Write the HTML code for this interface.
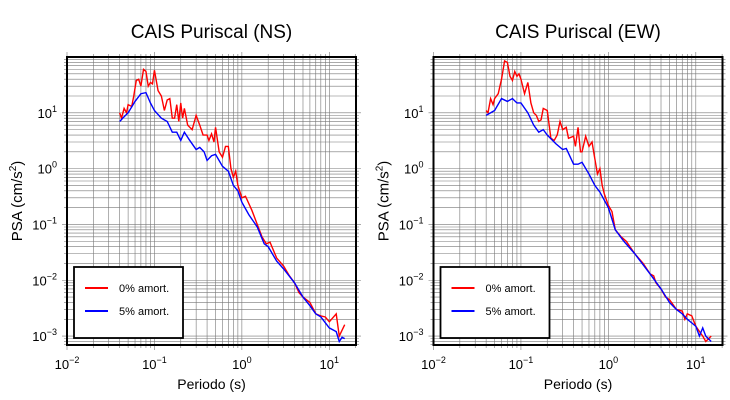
<!DOCTYPE html>
<html><head><meta charset="utf-8"><style>
body{margin:0;background:#fff}svg{display:block;font-family:"Liberation Sans",sans-serif}
</style></head><body>
<svg id="c" width="730" height="400" viewBox="0 0 730 400"></svg>
<script>
const nsPer0=[0.04,0.042,0.045,0.048,0.05,0.055,0.058,0.062,0.066,0.07,0.075,0.08,0.085,0.09,0.095,0.1,0.11,0.12,0.13,0.14,0.15,0.16,0.17,0.18,0.19,0.2,0.21,0.22,0.24,0.27,0.3,0.33,0.36,0.4,0.42,0.45,0.48,0.5,0.55,0.6,0.65,0.7,0.75,0.8,0.85,0.9,1.0,1.1,1.3,1.5,1.7,1.9,2.1,2.5,3,3.5,4,4.5,5,6,7,8,9,10,12,13,15];
const nsVal0=[10,8,12,10,14,13,20,38,40,30,60,55,30,35,33,58,25,20,11,17,18,8,8,14,7,15,8,12,6,5,9,6,4,4,3.2,4.2,3,5.5,2,1.6,2.5,2.5,1.0,0.7,0.9,0.5,0.3,0.32,0.18,0.1,0.06,0.045,0.048,0.025,0.018,0.012,0.009,0.006,0.005,0.004,0.0025,0.0023,0.0022,0.0018,0.0025,0.001,0.0016];
const nsPer5=[0.04,0.045,0.05,0.06,0.07,0.08,0.09,0.1,0.12,0.14,0.16,0.18,0.2,0.22,0.25,0.3,0.33,0.37,0.4,0.45,0.5,0.6,0.7,0.8,0.9,1.0,1.2,1.5,1.8,2,2.5,3,4,5,6,7,8,10,12,13,14,15];
const nsVal5=[7,8.5,10,16,22,23,15,11,8,7,4.5,4.5,3.2,4.5,3.3,2.2,2.4,2.0,1.4,1.7,1.8,1.1,0.9,0.5,0.4,0.25,0.15,0.09,0.045,0.04,0.022,0.016,0.009,0.005,0.0035,0.0025,0.0022,0.0014,0.0012,0.0008,0.00095,0.0009];
const ewPer0=[0.04,0.042,0.045,0.048,0.05,0.055,0.06,0.065,0.07,0.075,0.08,0.085,0.09,0.095,0.1,0.11,0.12,0.13,0.14,0.15,0.16,0.17,0.18,0.2,0.22,0.24,0.26,0.28,0.3,0.33,0.35,0.4,0.42,0.45,0.48,0.5,0.55,0.6,0.65,0.7,0.75,0.8,0.85,0.9,1.0,1.1,1.2,1.4,1.6,2,2.5,3,3.3,3.5,4,4.5,5,6,7,7.5,8,9,10,12,13,15];
const ewVal0=[11,10,18,14,18,22,40,85,80,45,38,55,45,50,40,22,35,15,10,9,7,7.5,12,11,3.5,3.2,4,7,5,5.5,3.5,3.8,2.5,5.5,2,2,3.8,2.5,3,1.5,0.8,1,0.5,0.35,0.22,0.17,0.08,0.06,0.05,0.03,0.02,0.013,0.012,0.009,0.007,0.005,0.0045,0.003,0.0028,0.002,0.0025,0.0023,0.0015,0.001,0.0008,0.001];
const ewPer5=[0.04,0.05,0.06,0.07,0.08,0.09,0.1,0.12,0.14,0.16,0.18,0.2,0.25,0.3,0.33,0.4,0.45,0.5,0.6,0.7,0.8,1.0,1.2,1.5,2,3,4,5,6,7,8,10,11,12,13,15];
const ewVal5=[9,11,18,16,18,15,15,10,6,4.5,5,4,2.8,2.2,2.3,1.2,1.2,1.3,0.8,0.5,0.38,0.2,0.08,0.05,0.03,0.013,0.007,0.004,0.003,0.0025,0.002,0.0015,0.001,0.0014,0.001,0.0008];
const xTicks=["-2","-1","0","1"];
const yTicks=["1","0","-1","-2","-3"];
const NS="http://www.w3.org/2000/svg",svg=document.getElementById('c');
function mk(t,a,p){const e=document.createElementNS(NS,t);for(const k in a)e.setAttribute(k,a[k]);(p||svg).appendChild(e);return e;}
function panel(x0,title,p0,v0,p5,v5,id){
  const y0=57,w=289,h=288,xmin=-2,xmax=Math.log10(20.2),ymax=2,ymin=-3.16;
  const X=v=>x0+(Math.log10(v)-xmin)/(xmax-xmin)*w;
  const Y=v=>y0+(ymax-Math.log10(v))/(ymax-ymin)*h;
  const g=mk('g',{});
  
  const grid=mk('g',{stroke:'#777','stroke-width':0.6},g);
  
  for(let d=-2;d<=1;d++)for(let m=1;m<10;m++){const v=m*Math.pow(10,d);if(v>20.2)break;const x=X(v);
    mk('line',{x1:x,x2:x,y1:y0-(m==1?5:3),y2:y0+h+(m==1?5:3)},grid);}
  for(let d=-4;d<=1;d++)for(let m=1;m<10;m++){const v=m*Math.pow(10,d);const yy=Y(v);if(yy<y0-0.5||yy>y0+h+0.5)continue;
    mk('line',{x1:x0-(m==1?5:3),x2:x0+w+(m==1?5:3),y1:yy,y2:yy},grid);}
  mk('rect',{x:x0,y:y0,width:w,height:h,fill:'none',stroke:'#000','stroke-width':2},g);
  xTicks.forEach(t=>{const x=X(Math.pow(10,+t));const tx=mk('text',{x:x,y:369,'font-size':13,'text-anchor':'middle'},g);
    
    tx.innerHTML='10<tspan dy="-6" font-size="9">'+(t.startsWith('-')?'−'+t.slice(1):t)+'</tspan>';});
  yTicks.forEach(t=>{const yy=Y(Math.pow(10,+t));const tx=mk('text',{x:x0-10,y:yy+5,'font-size':13,'text-anchor':'end'},g);
    
    tx.innerHTML='10<tspan dy="-6" font-size="9">'+(t.startsWith('-')?'−'+t.slice(1):t)+'</tspan>';});
  const tt=mk('text',{x:x0+w/2,y:38,'font-size':19,'text-anchor':'middle'},g);tt.textContent=title;
  
  const xl=mk('text',{x:x0+w/2,y:389,'font-size':14,'text-anchor':'middle'},g);xl.textContent='Periodo (s)';
  
  const yl=mk('text',{x:0,y:0,'font-size':15,'text-anchor':'middle',transform:`translate(${x0-45},${y0+h/2}) rotate(-90)`},g);
  yl.innerHTML='PSA (cm/s<tspan dy="-6" font-size="10">2</tspan><tspan dy="6">)</tspan>';
  
  const l0=mk('polyline',{points:p0.map((p,i)=>X(p)+','+Y(v0[i])).join(' '),fill:'none',stroke:'#f00','stroke-width':1.4},g);
  
  const l5=mk('polyline',{points:p5.map((p,i)=>X(p)+','+Y(v5[i])).join(' '),fill:'none',stroke:'#00f','stroke-width':1.4},g);
  
  const lg=mk('g',{},g);
  const lx=x0+7;
  mk('rect',{x:lx,y:267,width:109,height:71,fill:'#fff',stroke:'#000','stroke-width':1.8},lg);
  mk('line',{x1:lx+11,x2:lx+34,y1:288,y2:288,stroke:'#f00','stroke-width':2},lg);
  mk('line',{x1:lx+11,x2:lx+34,y1:311,y2:311,stroke:'#00f','stroke-width':2},lg);
  const a=mk('text',{x:lx+45,y:292,'font-size':11},lg);a.textContent='0% amort.';
  
  const b=mk('text',{x:lx+45,y:315,'font-size':11},lg);b.textContent='5% amort.';
  
}
panel(67,'CAIS Puriscal (NS)',nsPer0,nsVal0,nsPer5,nsVal5,'ns');
panel(433.5,'CAIS Puriscal (EW)',ewPer0,ewVal0,ewPer5,ewVal5,'ew');
</script>
</body></html>
